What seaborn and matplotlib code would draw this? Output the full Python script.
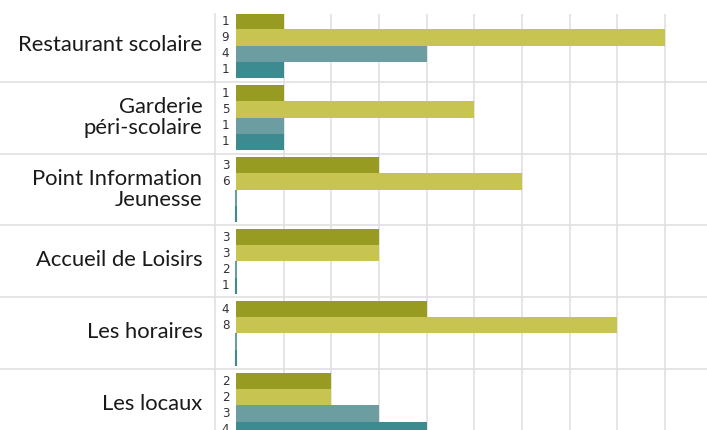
import pandas as pd
import matplotlib
matplotlib.use("Agg")
import matplotlib.pyplot as plt
import matplotlib.transforms as mtransforms
import seaborn as sns

# categories (y axis) and the four series
categories = ["Restaurant scolaire", "Garderie\npéri-scolaire",
              "Point Information\nJeunesse", "Accueil de Loisirs",
              "Les horaires", "Les locaux"]
series_names = ["s1", "s2", "s3", "s4"]
s1 = [1, 1, 3, 3, 4, 2]
s2 = [9, 5, 6, 3, 8, 2]
s3 = [4, 1, 0, 0, 0, 3]
s4 = [1, 1, 0, 0, 0, 4]
# little numbers printed left of each bar (some differ from the bars)
s1_labels = ["1", "1", "3", "3", "4", "2"]
s2_labels = ["9", "5", "6", "3", "8", "2"]
s3_labels = ["4", "1", "", "2", "", "3"]
s4_labels = ["1", "1", "", "1", "", "4"]
colors = ["#979b21", "#c8c452", "#6b9da1", "#3b8b90"]

rows = []
for name, vals in zip(series_names, [s1, s2, s3, s4]):
    for cat, v in zip(categories, vals):
        rows.append({"categorie": cat, "serie": name, "valeur": v})
df = pd.DataFrame(rows)

sns.set_style("white")
plt.rcParams["font.family"] = ["Lato", "DejaVu Sans"]

fig = plt.figure(figsize=(7.07, 4.30), dpi=100)
ax = fig.add_axes([215 / 707, -0.0267, 492 / 707, 0.9941])

sns.barplot(data=df, y="categorie", x="valeur", hue="serie",
            order=categories, hue_order=series_names,
            palette=dict(zip(series_names, colors)),
            orient="h", width=0.89, gap=0, legend=False,
            linewidth=0, saturation=1, ax=ax)

# zero bars still show as a thin stub
for p in ax.patches:
    if p.get_width() == 0:
        p.set_edgecolor(p.get_facecolor())
        p.set_linewidth(1.5)

ax.set_xticks(range(1, 10))
ax.set_xlim(-0.4405, 9.881)
ax.set_ylim(5.5, -0.4375)
ax.xaxis.grid(True, color="#e0e0e0", linewidth=1.2)
ax.set_axisbelow(True)
ax.set_xticklabels([])
ax.tick_params(axis="x", length=0)
ax.tick_params(axis="y", length=0, pad=9, labelsize=15.8, labelcolor="#1a1a1a")
shift_up = mtransforms.ScaledTranslation(0, 3 / 100, fig.dpi_scale_trans)
for lab in ax.get_yticklabels():
    lab.set_multialignment("right")
    lab.set_linespacing(1.12)
    lab.set_transform(lab.get_transform() + shift_up)
ax.set_xlabel("")
ax.set_ylabel("")

for side in ["top", "right", "bottom"]:
    ax.spines[side].set_visible(False)
ax.spines["left"].set_color("#e0e0e0")
ax.spines["left"].set_linewidth(1.2)

# separators between categories, running under the labels too
for y in [0.5, 1.5, 2.5, 3.5, 4.5]:
    ax.axhline(y, xmin=-0.45, xmax=1, color="#e0e0e0", linewidth=1.2,
               clip_on=False, zorder=0)

all_labels = [s1_labels, s2_labels, s3_labels, s4_labels]
for cont, labels in zip(ax.containers, all_labels):
    for patch, txt in zip(cont.patches, labels):
        if txt:
            ax.text(-0.22, patch.get_y() + patch.get_height() / 2, txt,
                    ha="center", va="center", fontsize=9.5, color="#333333",
                    family="DejaVu Sans", fontstretch="condensed")

fig.savefig("out.png", dpi=100)
